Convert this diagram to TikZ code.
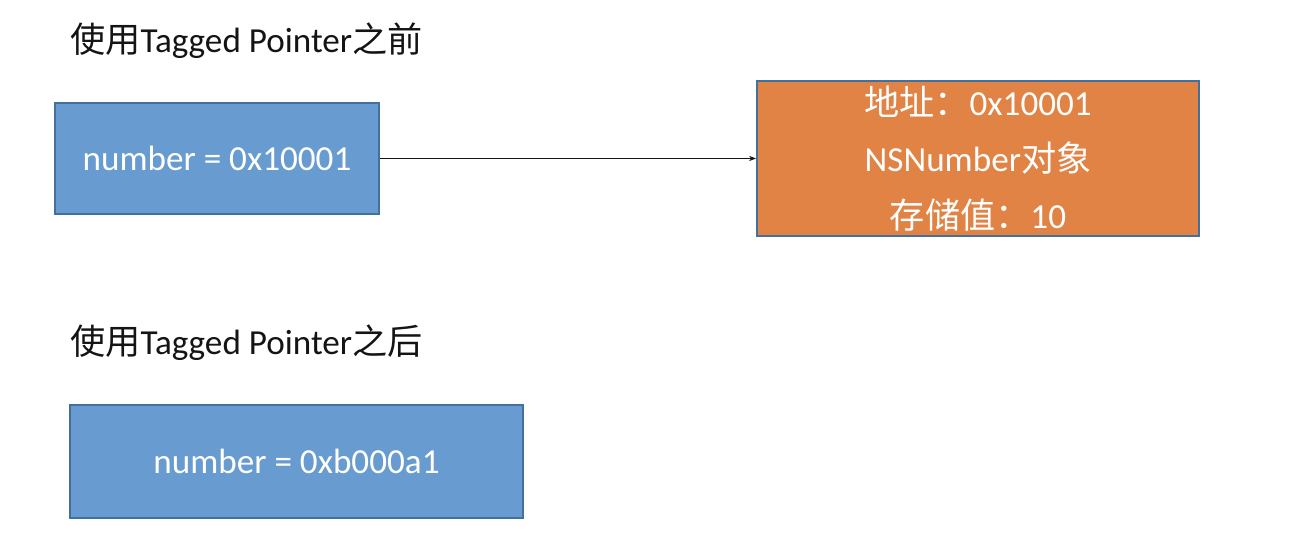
\documentclass[tikz,border=0pt]{standalone}
\usepackage{fontspec}
\setmainfont{Carlito}
\newfontfamily\cjk{Noto Sans CJK SC}
\usepackage{tikz}
\usetikzlibrary{arrows.meta, positioning}
\definecolor{myblue}{RGB}{104,155,208}
\definecolor{myorange}{RGB}{224,131,68}
\definecolor{myedge}{RGB}{65,113,156}
\definecolor{mydark}{RGB}{20,20,20}
\tikzset{
  ptrbox/.style={rectangle, draw=myedge, fill=myblue, line width=1.1pt,
    text=white, align=center, inner sep=0pt},
  objbox/.style={rectangle, draw=myedge, fill=myorange, line width=1.1pt,
    text=white, align=center, inner sep=0pt},
  title/.style={anchor=west, inner sep=0pt, text=mydark},
  arrow/.style={-{Stealth[length=4pt,width=3pt]}, line width=0.6pt, color=mydark}
}
\begin{document}
\begin{tikzpicture}[font=\fontsize{20}{32}\selectfont]
  \useasboundingbox (0,0) rectangle (26.24,10.72);

  % before
  \node[title] (before) at (1.40, 9.90) {{\cjk 使用}Tagged Pointer{\cjk 之前}};
  \node[ptrbox, minimum width=6.48cm, minimum height=2.22cm] (ptr) at (4.34, 7.55)
    {number = 0x10001};
  \node[objbox, minimum width=8.84cm, minimum height=3.10cm] (obj) at (19.56, 7.55)
    {{\cjk 地址：}0x10001\\NSNumber{\cjk 对象}\\{\cjk 存储值：}10};
  \draw[arrow] (ptr) -- (obj);

  % after
  \node[title] (after) at (1.40, 3.86) {{\cjk 使用}Tagged Pointer{\cjk 之后}};
  \node[ptrbox, minimum width=9.06cm, minimum height=2.26cm] (tagged) at (5.93, 1.49)
    {number = 0xb000a1};
\end{tikzpicture}
\end{document}
